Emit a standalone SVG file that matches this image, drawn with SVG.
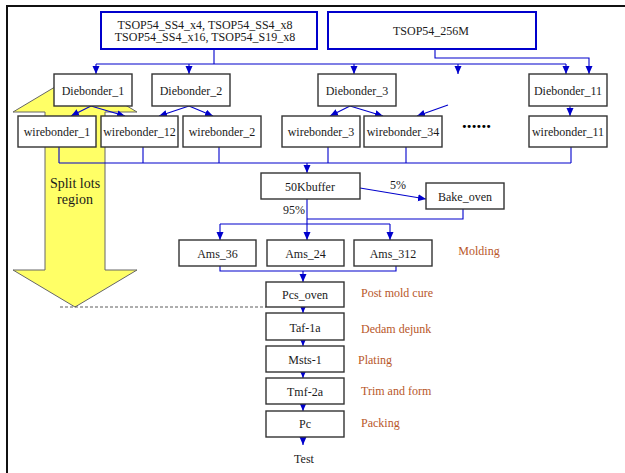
<svg xmlns="http://www.w3.org/2000/svg" width="625" height="473" viewBox="0 0 625 473">
<defs>
<marker id="ah" markerUnits="userSpaceOnUse" markerWidth="8" markerHeight="8" refX="8" refY="3.5" orient="auto">
<path d="M0,0 L8,3.5 L0,7 z" fill="#0000CC"/>
</marker>
<style>
text{font-family:"Liberation Serif","Times New Roman",serif;font-size:12px;fill:#1a1a1a}
.c{text-anchor:middle}
.box{fill:#fff;stroke:#333;stroke-width:1.4}
.src{fill:#fff;stroke:#0000CC;stroke-width:2}
.ln{fill:none;stroke:#0000CC;stroke-width:1.1}
.ar{fill:none;stroke:#0000CC;stroke-width:1.1;marker-end:url(#ah)}
.lab{fill:#B8572A}
</style>
</defs>
<rect width="625" height="473" fill="#fff"/>
<path d="M7,473 V6 H625" fill="none" stroke="#111" stroke-width="2"/>

<g id="split-lots-region">
<polygon points="75,75 137,112 105,112 105,270 137,270 75,307 13,270 45,270 45,112 13,112" fill="#FFFF66" stroke="#666" stroke-width="1"/>
<text class="c" x="75" y="187.5" style="font-size:14px">Split lots</text>
<text class="c" x="75" y="203.5" style="font-size:14px">region</text>
</g>
<line x1="60" y1="307" x2="266" y2="307" stroke="#333" stroke-width="0.8" stroke-dasharray="3,2"/>

<g id="connectors">
<path class="ln" d="M214,49 V64 M96,64 H566"/>
<path class="ar" d="M96,64 V74"/>
<path class="ar" d="M189,64 V74"/>
<path class="ar" d="M354,64 V74"/>
<path class="ar" d="M458,64 V74"/>
<path class="ar" d="M566,64 V74"/>
<path class="ar" d="M435,49 V58 H589 V74"/>
<path class="ar" d="M91,106 L71,116"/>
<path class="ar" d="M91,106 L125,116"/>
<path class="ar" d="M189,106 L159,116"/>
<path class="ar" d="M189,106 L213,116"/>
<path class="ar" d="M350,106 L330,116"/>
<path class="ar" d="M350,106 L383,116"/>
<path class="ar" d="M448,105 L417,116"/>
<path class="ar" d="M570,106 V116"/>
<path class="ln" d="M59,147 V163 M143,147 V163 M219,147 V163 M328,147 V163 M406,147 V163 M571,147 V163 M59,163 H571"/>
<path class="ar" d="M307,163 V173"/>
<path class="ar" d="M360,188 L426,199"/>
<path class="ar" d="M307,199 V240"/>
<path class="ln" d="M220,224 H390"/>
<path class="ar" d="M220,224 V240"/>
<path class="ar" d="M390,224 V240"/>
<path class="ln" d="M463,209 V219 H307"/>
<path class="ln" d="M220,266 V271 H396 V266"/>
<path class="ar" d="M303,271 V282"/>
<path class="ar" d="M303,307 V313"/>
<path class="ar" d="M303,340 V346"/>
<path class="ar" d="M303,372 V378"/>
<path class="ar" d="M303,404 V411"/>
<path class="ar" d="M303,437 V445"/>
</g>

<g id="src1"><rect class="src" x="101" y="12" width="216" height="37"/>
<text class="c" x="205" y="28.5">TSOP54_SS4_x4, TSOP54_SS4_x8</text>
<text class="c" x="205" y="41">TSOP54_SS4_x16, TSOP54_S19_x8</text></g>
<g id="src2"><rect class="src" x="328" y="12" width="208" height="37"/>
<text class="c" x="431" y="35">TSOP54_256M</text></g>

<g id="diebonder_1"><rect class="box" x="54" y="74" width="78" height="32"/><text class="c" x="93" y="94.5">Diebonder_1</text></g>
<g id="diebonder_2"><rect class="box" x="152" y="74" width="78" height="32"/><text class="c" x="191" y="94.5">Diebonder_2</text></g>
<g id="diebonder_3"><rect class="box" x="318" y="74" width="78" height="32"/><text class="c" x="357" y="94.5">Diebonder_3</text></g>
<g id="diebonder_11"><rect class="box" x="529" y="74" width="78" height="32"/><text class="c" x="568" y="94.5">Diebonder_11</text></g>

<g id="wirebonder_1"><rect class="box" x="18" y="116" width="78" height="31"/><text class="c" x="57" y="136">wirebonder_1</text></g>
<g id="wirebonder_12"><rect class="box" x="101" y="116" width="77" height="31"/><text class="c" x="139.5" y="136">wirebonder_12</text></g>
<g id="wirebonder_2"><rect class="box" x="183" y="116" width="78" height="31"/><text class="c" x="222" y="136">wirebonder_2</text></g>
<g id="wirebonder_3"><rect class="box" x="282" y="116" width="78" height="31"/><text class="c" x="321" y="136">wirebonder_3</text></g>
<g id="wirebonder_34"><rect class="box" x="364" y="116" width="78" height="31"/><text class="c" x="403" y="136">wirebonder_34</text></g>
<g id="wirebonder_11"><rect class="box" x="529" y="116" width="78" height="31"/><text class="c" x="568" y="136">wirebonder_11</text></g>
<text x="462" y="128" style="font-size:19px;font-weight:bold;fill:#000" textLength="29">......</text>

<g id="buffer"><rect class="box" x="261" y="173" width="99" height="26"/><text class="c" x="310" y="190.5">50Kbuffer</text></g>
<g id="bake_oven"><rect class="box" x="426" y="183" width="78" height="26"/><text class="c" x="465" y="200.5">Bake_oven</text></g>
<text class="c" x="398" y="189">5%</text>
<text class="c" x="294" y="214">95%</text>

<g id="ams_36"><rect class="box" x="179" y="240" width="77" height="26"/><text class="c" x="217.5" y="257.5">Ams_36</text></g>
<g id="ams_24"><rect class="box" x="267" y="240" width="77" height="26"/><text class="c" x="305.5" y="257.5">Ams_24</text></g>
<g id="ams_312"><rect class="box" x="354" y="240" width="78" height="26"/><text class="c" x="393" y="257.5">Ams_312</text></g>
<text class="lab c" x="479" y="254.5">Molding</text>

<g id="pcs_oven"><rect class="box" x="266" y="282" width="78" height="25"/><text class="c" x="305" y="299">Pcs_oven</text></g>
<g id="taf"><rect class="box" x="266" y="313" width="78" height="27"/><text class="c" x="305" y="331.5">Taf-1a</text></g>
<g id="msts"><rect class="box" x="266" y="346" width="78" height="26"/><text class="c" x="305" y="364">Msts-1</text></g>
<g id="tmf"><rect class="box" x="266" y="378" width="78" height="26"/><text class="c" x="305" y="395.5">Tmf-2a</text></g>
<g id="pc"><rect class="box" x="266" y="411" width="78" height="26"/><text class="c" x="305" y="428.3">Pc</text></g>
<text class="c" x="304" y="463">Test</text>

<text class="lab" x="361" y="296.5">Post mold cure</text>
<text class="lab" x="361" y="332.5">Dedam dejunk</text>
<text class="lab" x="358" y="364">Plating</text>
<text class="lab" x="361" y="395">Trim and form</text>
<text class="lab" x="361" y="426.5">Packing</text>
</svg>
